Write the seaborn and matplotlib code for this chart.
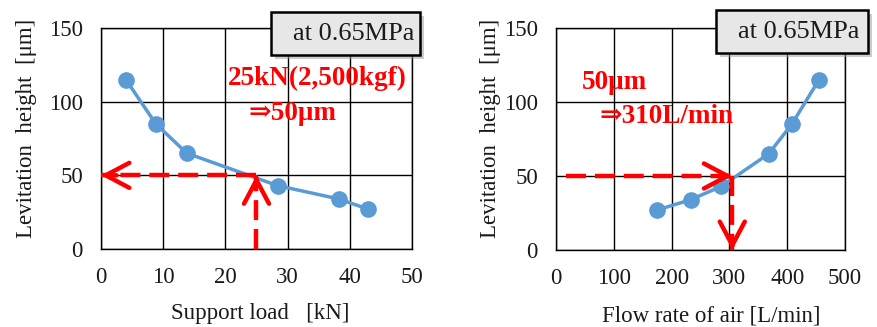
import matplotlib
matplotlib.use("Agg")
import matplotlib.pyplot as plt
import seaborn as sns
import pandas as pd
from matplotlib.patches import Rectangle

# ---- data ----
support_load_kN = [4.0, 8.8, 13.8, 28.4, 38.2, 43.0]
height_load_um = [115, 85, 65, 43, 34, 27]
flow_rate_Lmin = [175, 233, 286, 368, 408, 455]
height_flow_um = [27, 34, 43, 65, 85, 115]

x_ticks_load = [0, 10, 20, 30, 40, 50]
x_ticks_flow = [0, 100, 200, 300, 400, 500]
y_ticks = [0, 50, 100, 150]

target_height = 50
target_load = 25
target_flow = 305
flow_line_start = 17

box_text = "at 0.65MPa"
note_load = ["25kN(2,500kgf)", "⇒50μm"]
note_flow = ["50μm", "⇒310L/min"]

sns.set_theme(style="white")
plt.rcParams['font.family'] = ['Liberation Serif', 'DejaVu Serif']

W, H = 878, 327
fig = plt.figure(figsize=(W / 100, H / 100), dpi=100)

def px_axes(x0, y0, x1, y1):
    return fig.add_axes([x0 / W, (H - y1) / H, (x1 - x0) / W, (y1 - y0) / H])

axL = px_axes(101, 28, 412, 249)
axR = px_axes(556, 28, 845, 250)

blue = "#5B9BD5"
red = "#FF0000"
txt = "#1a1a1a"
dash = (0, (4.5, 2))

def style(ax, xticks, xlabel, xl_pos, yl_pos):
    ax.set_xlim(xticks[0], xticks[-1])
    ax.set_ylim(y_ticks[0], y_ticks[-1])
    ax.set_xticks(xticks)
    ax.set_yticks(y_ticks)
    ax.grid(True, color="black", lw=1.0)
    ax.set_axisbelow(True)
    for s in ax.spines.values():
        s.set_color("black")
        s.set_linewidth(1.0)
    ax.tick_params(length=0, pad=13, labelsize=16.5, colors=txt)
    ax.set_xlabel(xlabel, fontsize=16.5, color=txt)
    ax.set_ylabel("Levitation  height  [μm]", fontsize=16.5, color=txt)
    ax.xaxis.set_label_coords(*xl_pos)
    ax.yaxis.set_label_coords(*yl_pos)

dfL = pd.DataFrame({"load": support_load_kN, "h": height_load_um})
dfR = pd.DataFrame({"flow": flow_rate_Lmin, "h": height_flow_um})

sns.lineplot(data=dfL, x="load", y="h", ax=axL, color=blue, lw=2.5,
             marker="o", markersize=12, markeredgewidth=0, zorder=3)
sns.lineplot(data=dfR, x="flow", y="h", ax=axR, color=blue, lw=2.5,
             marker="o", markersize=12, markeredgewidth=0, zorder=3)

style(axL, x_ticks_load, "Support load   [kN]", (0.511, -0.245), (-0.205, 0.547))
style(axR, x_ticks_flow, "Flow rate of air [L/min]", (0.538, -0.25), (-0.19, 0.546))

def dashed_arrow(ax, start, end, frac):
    ax.plot([start[0], end[0]], [start[1], end[1]], color=red, lw=3.2,
            linestyle=dash, zorder=4, dash_capstyle="butt")
    tail = (end[0] + (start[0] - end[0]) * frac, end[1] + (start[1] - end[1]) * frac)
    ax.annotate("", xy=end, xytext=tail,
                arrowprops=dict(arrowstyle="->,head_length=0.85,head_width=0.45",
                                color=red, lw=3.2, shrinkA=0, shrinkB=0,
                                mutation_scale=20), zorder=5)

dashed_arrow(axL, (target_load, target_height), (0, target_height), 0.1)
dashed_arrow(axL, (target_load, 0), (target_load, target_height), 0.1)
dashed_arrow(axR, (flow_line_start, target_height), (target_flow, target_height), 0.05)
dashed_arrow(axR, (target_flow, target_height), (target_flow, 0), 0.1)

tkw = dict(color=red, fontsize=19.5, fontweight="bold", zorder=6)
axL.text(0.696, 0.774, note_load[0], transform=axL.transAxes, ha="center", va="center", **tkw)
axL.text(0.616, 0.615, note_load[1], transform=axL.transAxes, ha="center", va="center", **tkw)
axR.text(0.088, 0.753, note_flow[0], transform=axR.transAxes, ha="left", va="center", **tkw)
axR.text(0.151, 0.600, note_flow[1], transform=axR.transAxes, ha="left", va="center", **tkw)

def label_box(x0, y0, x1, y1, text_right):
    sh = Rectangle(((x0 + 4) / W, (H - y1 - 4) / H), (x1 - x0) / W, (y1 - y0) / H,
                   transform=fig.transFigure, facecolor="#9a9a9a", edgecolor="none",
                   alpha=0.5, zorder=9)
    box = Rectangle((x0 / W, (H - y1) / H), (x1 - x0) / W, (y1 - y0) / H,
                    transform=fig.transFigure, facecolor="#e7e7e7", edgecolor="black",
                    lw=1.8, zorder=10)
    fig.add_artist(sh)
    fig.add_artist(box)
    fig.text(text_right / W, (H - (y0 + y1) / 2) / H, box_text, ha="right", va="center",
             fontsize=19, color=txt, zorder=11)

label_box(271, 12, 420, 55, 414)
label_box(716, 10, 868, 53, 859)

fig.savefig("out.png", dpi=100)
